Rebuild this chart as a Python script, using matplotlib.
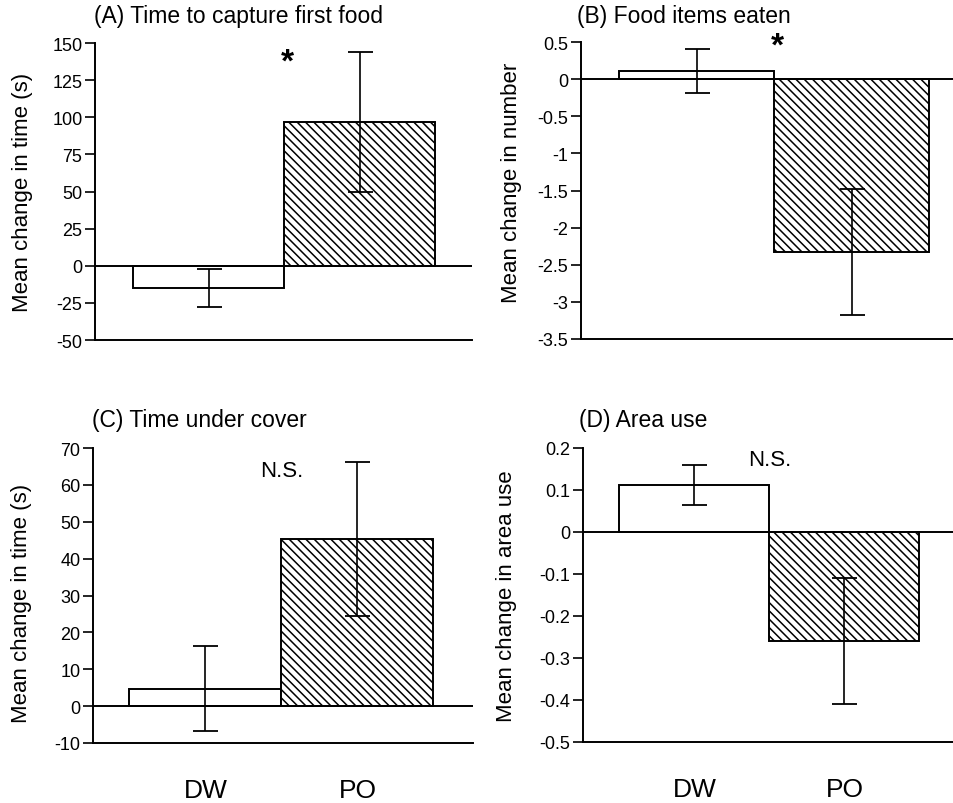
import matplotlib
matplotlib.use("Agg")
import matplotlib.pyplot as plt

plt.rcParams['font.family'] = ['Liberation Sans', 'DejaVu Sans']
plt.rcParams['hatch.linewidth'] = 1.1

groups = ["DW", "PO"]

# means and standard errors
capture_mean = [-15, 97]
capture_se = [12.5, 47]
eaten_mean = [0.11, -2.33]
eaten_se = [0.30, 0.85]
cover_mean = [4.7, 45.3]
cover_se = [11.5, 20.8]
area_mean = [0.112, -0.26]
area_se = [0.047, 0.15]

titles = ["(A) Time to capture first food", "(B) Food items eaten",
          "(C) Time under cover", "(D) Area use"]
ylabels = ["Mean change in time (s)", "Mean change in number",
           "Mean change in time (s)", "Mean change in area use"]
yticks = [[-50, -25, 0, 25, 50, 75, 100, 125, 150],
          [-3.5, -3, -2.5, -2, -1.5, -1, -0.5, 0, 0.5],
          [-10, 0, 10, 20, 30, 40, 50, 60, 70],
          [-0.5, -0.4, -0.3, -0.2, -0.1, 0, 0.1, 0.2]]
ytick_labels = [["-50", "-25", "0", "25", "50", "75", "100", "125", "150"],
                ["-3.5", "-3", "-2.5", "-2", "-1.5", "-1", "-0.5", "0", "0.5"],
                ["-10", "0", "10", "20", "30", "40", "50", "60", "70"],
                ["-0.5", "-0.4", "-0.3", "-0.2", "-0.1", "0", "0.1", "0.2"]]
marks = ["*", "*", "N.S.", "N.S."]
mark_y = [137, 0.44, 64, 0.173]

means = [capture_mean, eaten_mean, cover_mean, area_mean]
ses = [capture_se, eaten_se, cover_se, area_se]

W, H = 954, 804
fig = plt.figure(figsize=(W / 100, H / 100), dpi=100)

# pixel boxes: left, top, right, bottom
boxes = [(95, 44, 472, 341), (581, 43, 954, 340),
         (93, 449, 473, 744), (583, 449, 954, 743)]
xlims = [(-0.752, 1.745), (-0.745, 1.66), (-0.74, 1.76), (-0.742, 1.73)]
label_xy = [(-0.164, 0.5), (-0.159, 0.53), (-0.16, 0.475), (-0.178, 0.5)]
title_xy = [(94, 17), (577, 17), (92, 421), (579, 421)]

for i in range(4):
    l, t, r, b = boxes[i]
    ax = fig.add_axes([l / W, 1 - b / H, (r - l) / W, (b - t) / H])
    x = range(len(groups))
    ax.bar(x, means[i], width=1.0, color="white", edgecolor="black",
           linewidth=1.4, hatch=[None, "\\\\\\\\"], zorder=2)
    ax.errorbar(x, means[i], yerr=ses[i], fmt="none", ecolor="black",
                elinewidth=1.2, capsize=9, capthick=1.3, zorder=3)
    ax.axhline(0, color="black", linewidth=1.4, zorder=4)
    ax.set_xlim(*xlims[i])
    ax.set_ylim(yticks[i][0], yticks[i][-1])
    ax.set_yticks(yticks[i])
    ax.set_yticklabels(ytick_labels[i])
    ax.spines["top"].set_visible(False)
    ax.spines["right"].set_visible(False)
    ax.spines["left"].set_linewidth(1.4)
    ax.spines["bottom"].set_linewidth(1.4)
    ax.tick_params(axis="y", direction="out", length=7, width=1.2,
                   labelsize=13, pad=2)
    ax.set_ylabel(ylabels[i], fontsize=16)
    ax.yaxis.set_label_coords(*label_xy[i])
    if i >= 2:
        ax.set_xticks(list(x))
        ax.set_xticklabels(groups)
        ax.tick_params(axis="x", length=0, labelsize=19, pad=25)
    else:
        ax.set_xticks([])
    if marks[i] == "*":
        ax.text(0.52, mark_y[i], "*", fontsize=24, fontweight="bold",
                ha="center", va="center")
    else:
        ax.text(0.5, mark_y[i], marks[i], fontsize=16,
                ha="center", va="center")
    fig.text(title_xy[i][0] / W, 1 - title_xy[i][1] / H, titles[i],
             fontsize=16.5, ha="left", va="center")

fig.savefig("out.png", dpi=100)
